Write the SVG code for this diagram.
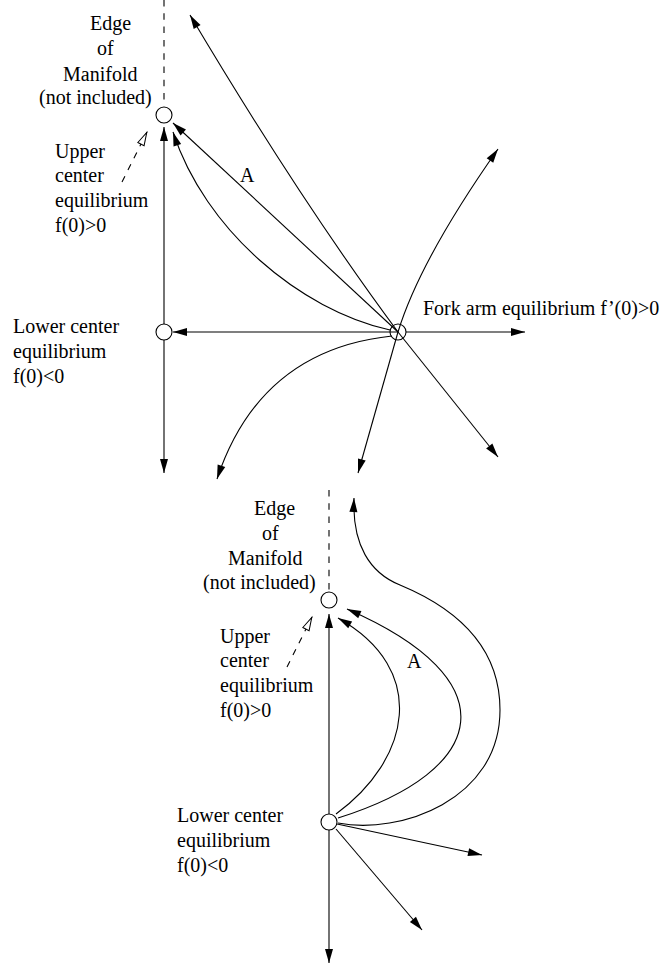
<svg xmlns="http://www.w3.org/2000/svg" width="660" height="965" viewBox="0 0 660 965">
<style>
.t{font-family:"Liberation Serif","Times New Roman",serif;font-size:20px;fill:#000}
.c{fill:none;stroke:#000;stroke-width:1.1}
.cw{fill:#fff;stroke:#000;stroke-width:1.1}
.l{fill:none;stroke:#000;stroke-width:1.1;marker-end:url(#ah)}
.d{fill:none;stroke:#000;stroke-width:1.1;stroke-dasharray:6.5 6.8}
.da{fill:none;stroke:#000;stroke-width:1.1;stroke-dasharray:6.5 6.8;marker-end:url(#oa)}
</style>
<defs>
<marker id="ah" markerUnits="userSpaceOnUse" viewBox="0 0 14 8" markerWidth="14" markerHeight="8" refX="14" refY="4" orient="auto" overflow="visible">
<path d="M0,0 L14,4 L0,8 Z" fill="#000" stroke="none"/>
</marker>
<marker id="oa" markerUnits="userSpaceOnUse" viewBox="0 0 14 8" markerWidth="14" markerHeight="8" refX="14" refY="4" orient="auto" overflow="visible">
<path d="M0.5,0.5 L13.5,4 L0.5,7.5 Z" fill="#fff" stroke="#000" stroke-width="1" stroke-dasharray="none"/>
</marker>
</defs>

<g id="connectors">
<line class="d" x1="164" y1="0" x2="164" y2="104"/>
<line class="l" x1="164" y1="324" x2="164" y2="127"/>
<line class="l" x1="164" y1="340" x2="164" y2="473"/>
<line class="l" x1="398" y1="332" x2="173" y2="332"/>
<line class="l" x1="406" y1="332" x2="525" y2="332"/>
<line class="l" x1="398" y1="332" x2="173" y2="123"/>
<path class="l" d="M390,330 C300,310 205,230 173,132"/>
<path class="l" d="M398,332 Q300,200 190,15"/>
<line class="l" x1="398" y1="332" x2="498" y2="457"/>
<path class="l" d="M398,332 Q420,260 498,149"/>
<line class="l" x1="398" y1="332" x2="358" y2="473"/>
<path class="l" d="M392,336 Q260,350 217,479"/>
<line class="da" x1="122" y1="182" x2="147" y2="132"/>
<line class="d" x1="329" y1="490" x2="329" y2="591"/>
<line class="l" x1="329" y1="814" x2="329" y2="614"/>
<line class="l" x1="329" y1="830" x2="329" y2="963"/>
<path class="l" d="M336,814 C410,760 430,670 338,618"/>
<path class="l" d="M338,818 C490,770 510,680 347,609"/>
<path class="l" d="M338,823 C400,835 500,800 500,710 C500,650 460,610 400,585 C370,573 352,545 354,498"/>
<line class="l" x1="337" y1="824" x2="482" y2="855"/>
<line class="l" x1="336" y1="829" x2="422" y2="930"/>
<line class="da" x1="287" y1="667" x2="312" y2="617"/>
</g>

<g id="edge-top">
<text class="t" x="90" y="30">Edge</text>
<text class="t" x="97" y="55">of</text>
<text class="t" x="63" y="81">Manifold</text>
<text class="t" x="39" y="104">(not included)</text>
</g>
<g id="upper-center-top">
<circle class="cw" cx="164" cy="115" r="8"/>
<text class="t" x="55" y="158">Upper</text>
<text class="t" x="55" y="182">center</text>
<text class="t" x="55" y="207">equilibrium</text>
<text class="t" x="55" y="232">f(0)&gt;0</text>
</g>
<g id="lower-center-top">
<circle class="cw" cx="164" cy="332" r="8"/>
<text class="t" x="13" y="333">Lower center</text>
<text class="t" x="13" y="358">equilibrium</text>
<text class="t" x="13" y="383">f(0)&lt;0</text>
</g>
<g id="fork-arm">
<circle class="c" cx="398" cy="332" r="8"/>
<text class="t" x="423" y="315">Fork arm equilibrium f’(0)&gt;0</text>
</g>
<g id="label-a-top">
<text class="t" x="240" y="182">A</text>
</g>

<g id="edge-bottom">
<text class="t" x="254" y="515">Edge</text>
<text class="t" x="262" y="540">of</text>
<text class="t" x="228" y="565">Manifold</text>
<text class="t" x="203" y="589">(not included)</text>
</g>
<g id="upper-center-bottom">
<circle class="cw" cx="329" cy="600" r="8"/>
<text class="t" x="220" y="643">Upper</text>
<text class="t" x="220" y="667">center</text>
<text class="t" x="220" y="692">equilibrium</text>
<text class="t" x="220" y="717">f(0)&gt;0</text>
</g>
<g id="lower-center-bottom">
<circle class="c" cx="329" cy="822" r="8"/>
<text class="t" x="177" y="822">Lower center</text>
<text class="t" x="177" y="847">equilibrium</text>
<text class="t" x="177" y="872">f(0)&lt;0</text>
</g>
<g id="label-a-bottom">
<text class="t" x="407" y="668">A</text>
</g>
</svg>
